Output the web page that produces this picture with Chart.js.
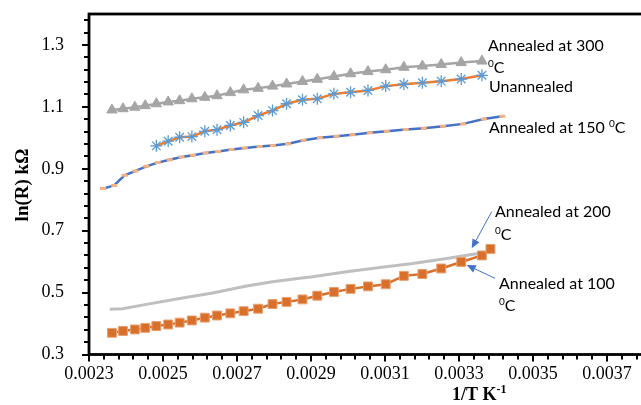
<!DOCTYPE html>
<html><head><meta charset="utf-8">
<script src="https://cdn.jsdelivr.net/npm/chart.js@4"></script>
<style>
html,body{margin:0;padding:0;background:#fff;overflow:hidden;width:641px;height:405px;}
#wrap{position:absolute;left:0;top:0;width:664px;height:405px;}
</style></head><body>
<div id="wrap"><canvas id="c" width="664" height="405"></canvas></div>
<script>
// ---- tick labels ----
const xTickLabels = ['0.0023','0.0025','0.0027','0.0029','0.0031','0.0033','0.0035','0.0037'];
const yTickLabels = ['0.3','0.5','0.7','0.9','1.1','1.3'];

// ---- Annealed at 300 (triangles) ----
const x300 = [0.002362,0.002392,0.002424,0.002452,0.002482,0.002514,0.002545,0.002578,0.002613,0.002646,0.002682,0.002718,0.002757,0.002796,0.002834,0.002877,0.002917,0.002962,0.003007,0.003054,0.003102,0.003151,0.003201,0.003252,0.003306,0.003362];
const y300 = [1.090,1.094,1.099,1.104,1.110,1.116,1.120,1.126,1.131,1.136,1.146,1.155,1.160,1.167,1.174,1.182,1.189,1.198,1.207,1.214,1.220,1.228,1.232,1.237,1.243,1.248];

// ---- Unannealed (asterisks) ----
const xUn = [0.002482,0.002514,0.002545,0.002578,0.002613,0.002646,0.002682,0.002718,0.002757,0.002796,0.002834,0.002877,0.002917,0.002962,0.003007,0.003054,0.003102,0.003151,0.003201,0.003252,0.003306,0.003362];
const yUn = [0.974,0.989,1.002,1.004,1.021,1.026,1.040,1.050,1.072,1.088,1.110,1.123,1.126,1.142,1.147,1.153,1.167,1.173,1.178,1.183,1.190,1.202];

// ---- Annealed at 150 ----
const x150 = [0.002338,0.002368,0.002396,0.002426,0.002455,0.002486,0.002518,0.002550,0.002581,0.002615,0.002649,0.002685,0.002721,0.002761,0.002797,0.002838,0.002880,0.002924,0.002969,0.003012,0.003059,0.003105,0.003156,0.003205,0.003257,0.003311,0.003367,0.003417];
const y150 = [0.836,0.846,0.879,0.893,0.908,0.920,0.929,0.938,0.944,0.951,0.956,0.962,0.967,0.972,0.975,0.981,0.992,1.000,1.005,1.010,1.016,1.021,1.027,1.031,1.037,1.045,1.061,1.070];

// ---- Annealed at 100 (squares) ----
const x100 = [0.002362,0.002392,0.002424,0.002452,0.002482,0.002514,0.002545,0.002578,0.002613,0.002646,0.002682,0.002718,0.002757,0.002796,0.002834,0.002877,0.002917,0.002962,0.003007,0.003054,0.003102,0.003151,0.003201,0.003252,0.003306,0.003362,0.003385];
const y100 = [0.370,0.376,0.381,0.386,0.392,0.397,0.403,0.410,0.419,0.426,0.433,0.440,0.448,0.463,0.470,0.478,0.490,0.502,0.512,0.520,0.527,0.554,0.560,0.578,0.599,0.620,0.641];

// ---- Annealed at 200 (grey line) ----
const x200 = [0.002356,0.002391,0.002455,0.002545,0.002634,0.002726,0.002796,0.002869,0.002904,0.002996,0.003086,0.003175,0.003267,0.003351];
const y200 = [0.446,0.448,0.462,0.481,0.499,0.521,0.535,0.546,0.551,0.567,0.581,0.594,0.610,0.626];

const pts = (xs, ys) => xs.map((x, i) => ({x, y: ys[i]}));

const SERIF = '"Liberation Serif","Times New Roman",serif';
const SANS = 'Lato, "Open Sans", sans-serif';

function drawRich(ctx, parts, x, y, size) {
  let cx = x;
  parts.forEach(p => {
    if (p.sup) {
      ctx.font = Math.round(size * 0.65) + 'px ' + SANS;
      ctx.fillText(p.t, cx, y - size * 0.38);
    } else {
      ctx.font = size + 'px ' + SANS;
      ctx.fillText(p.t, cx, y);
    }
    cx += ctx.measureText(p.t).width;
  });
}

const decor = {
  id: 'decor',
  afterDraw(chart) {
    const ctx = chart.ctx, a = chart.chartArea, xs = chart.scales.x, ys = chart.scales.y;
    ctx.save();
    ctx.strokeStyle = '#000';
    ctx.lineWidth = 2;
    for (let i = 0; i <= 37; i++) {
      const v = 0.0023 + i * 0.00004;
      const p = Math.round(xs.getPixelForValue(v));
      const major = i % 5 === 0;
      ctx.beginPath(); ctx.moveTo(p, a.bottom); ctx.lineTo(p, a.bottom + (major ? 7 : 5)); ctx.stroke();
    }
    for (let i = 0; i <= 27; i++) {
      const v = 0.3 + i * 0.04;
      const p = Math.round(ys.getPixelForValue(v));
      const major = i % 5 === 0;
      ctx.beginPath(); ctx.moveTo(a.left, p); ctx.lineTo(a.left - (major ? 7 : 5), p); ctx.stroke();
    }
    ctx.lineWidth = 2.8;
    ctx.strokeRect(a.left, a.top, a.right - a.left, a.bottom - a.top);

    // axis titles
    ctx.fillStyle = '#000';
    ctx.font = 'bold 18px ' + SERIF;
    ctx.textBaseline = 'alphabetic';
    ctx.textAlign = 'left';
    const tx = 452, ty = 400;
    ctx.fillText('1/T K', tx, ty);
    const w1 = ctx.measureText('1/T K').width;
    ctx.font = 'bold 12px ' + SERIF;
    ctx.fillText('-1', tx + w1, ty - 7);
    ctx.save();
    ctx.translate(28, 185);
    ctx.rotate(-Math.PI / 2);
    ctx.font = 'bold 19px ' + SERIF;
    ctx.textAlign = 'center';
    ctx.fillText('ln(R) kΩ', 0, 0);
    ctx.restore();

    // annotations
    ctx.fillStyle = '#000';
    ctx.textAlign = 'left';
    const S = 16;
    drawRich(ctx, [{t: 'Annealed at 300'}], 488, 51, S);
    drawRich(ctx, [{t: '0', sup: true}, {t: 'C'}], 488, 73, S);
    drawRich(ctx, [{t: 'Unannealed'}], 489, 92, S);
    drawRich(ctx, [{t: 'Annealed at 150 '}, {t: '0', sup: true}, {t: 'C'}], 489, 133, S);
    drawRich(ctx, [{t: 'Annealed at 200'}], 495, 216.5, S);
    drawRich(ctx, [{t: '0', sup: true}, {t: 'C'}], 495, 240, S);
    drawRich(ctx, [{t: 'Annealed at 100'}], 499, 289, S);
    drawRich(ctx, [{t: '0', sup: true}, {t: 'C'}], 499, 310.7, S);

    const arrow = (x1, y1, x2, y2) => {
      ctx.strokeStyle = '#4472C4'; ctx.fillStyle = '#4472C4'; ctx.lineWidth = 1;
      const ang = Math.atan2(y2 - y1, x2 - x1), L = 9, W = 4;
      const bx = x2 - L * Math.cos(ang), by = y2 - L * Math.sin(ang);
      ctx.beginPath(); ctx.moveTo(x1, y1); ctx.lineTo(bx, by); ctx.stroke();
      ctx.beginPath();
      ctx.moveTo(x2, y2);
      ctx.lineTo(bx + W * Math.sin(ang), by - W * Math.cos(ang));
      ctx.lineTo(bx - W * Math.sin(ang), by + W * Math.cos(ang));
      ctx.closePath(); ctx.fill();
    };
    arrow(491.7, 211.7, 471.7, 248.3);
    arrow(495, 278.3, 466.7, 265);
    ctx.restore();
  }
};

new Chart(document.getElementById('c'), {
  type: 'line',
  data: {
    datasets: [
      { label: 'Annealed at 300', data: pts(x300, y300), borderColor: '#A5A5A5', backgroundColor: '#A5A5A5', borderWidth: 2.5,
        pointStyle: 'triangle', pointRadius: 6, pointBorderWidth: 1, pointBackgroundColor: '#A5A5A5', pointBorderColor: '#A5A5A5' },
      { label: 'Unannealed', data: pts(xUn, yUn), borderColor: '#ED7D31', borderWidth: 2.5,
        pointStyle: 'star', pointRadius: 6, pointBorderWidth: 1.3, pointBorderColor: '#5B9BD5', pointBackgroundColor: '#5B9BD5' },
      { label: 'Annealed at 150', data: pts(x150, y150), borderColor: '#4472C4', borderWidth: 2.5,
        pointStyle: 'line', pointRadius: 3, pointBorderWidth: 3, pointBorderColor: '#F4B183', pointBackgroundColor: '#F4B183' },
      { label: 'Annealed at 100', data: pts(x100, y100), borderColor: '#D8702C', borderWidth: 2.5,
        pointStyle: 'rect', pointRadius: 6.3, pointBorderWidth: 1, pointBackgroundColor: '#D8702C', pointBorderColor: '#E9A070' },
      { label: 'Annealed at 200', data: pts(x200, y200), borderColor: '#BFBFBF', borderWidth: 3, pointRadius: 0 }
    ]
  },
  options: {
    responsive: false,
    animation: false,
    devicePixelRatio: 1,
    layout: { padding: { top: 14, right: 20, left: 0, bottom: 0 } },
    plugins: { legend: { display: false }, tooltip: { enabled: false } },
    elements: { line: { tension: 0, fill: false } },
    scales: {
      x: {
        type: 'linear', min: 0.0023, max: 0.0038,
        afterBuildTicks: s => { s.ticks = xTickLabels.map(v => ({value: Number(v)})); },
        afterFit: s => { s.height = 50.5; s.paddingLeft = 0; s.paddingRight = 0; },
        ticks: { callback: (v, i) => xTickLabels[i], color: '#000', padding: 9, maxRotation: 0, autoSkip: false,
          font: { family: SERIF, size: 18 } },
        grid: { display: false, drawTicks: false },
        border: { display: false }
      },
      y: {
        type: 'linear', min: 0.3, max: 1.4,
        afterBuildTicks: s => { s.ticks = yTickLabels.map(v => ({value: Number(v)})); },
        afterFit: s => { s.width = 89; s.paddingTop = 0; s.paddingBottom = 0; },
        ticks: { callback: (v, i) => yTickLabels[i], color: '#000', padding: 25, autoSkip: false,
          font: { family: SERIF, size: 18 } },
        grid: { display: false, drawTicks: false },
        border: { display: false }
      }
    }
  },
  plugins: [decor]
});
</script>
</body></html>
